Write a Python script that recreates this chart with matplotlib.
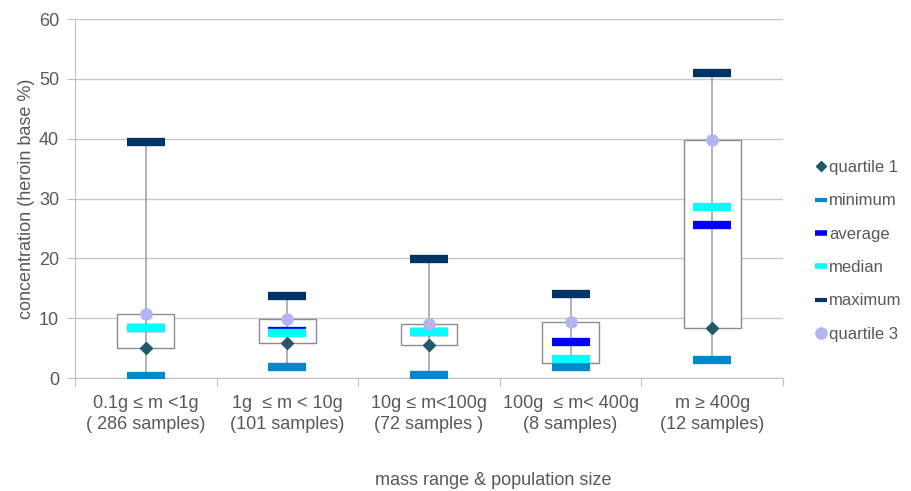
import matplotlib
matplotlib.use("Agg")
import matplotlib.pyplot as plt
from matplotlib.lines import Line2D

plt.rcParams['font.family'] = ['Liberation Sans', 'DejaVu Sans']

# data
categories = ['0.1g \u2264 m <1g\n( 286 samples)', '1g  \u2264 m < 10g\n(101 samples)',
              '10g \u2264 m<100g\n(72 samples )', '100g  \u2264 m< 400g\n(8 samples)',
              'm \u2265 400g\n(12 samples)']
quartile1 = [5.1, 5.9, 5.6, 2.45, 8.4]
minimum = [0.4, 1.85, 0.55, 1.9, 3.0]
average = [8.3, 7.85, 7.7, 6.05, 25.5]
median = [8.3, 7.5, 7.7, 3.2, 28.5]
maximum = [39.5, 13.7, 19.85, 14.05, 50.95]
quartile3 = [10.7, 9.85, 9.05, 9.3, 39.7]

grey_txt = '#595959'
c_q1 = '#215968'
c_min = '#0088cc'
c_avg = '#0000ff'
c_med = '#00ffff'
c_max = '#003366'
c_q3 = '#b4b4f0'
fs = 13

fig = plt.figure(figsize=(9.12, 4.91), dpi=100)
ax = fig.add_axes([0.0822, 0.2301, 0.7764, 0.7312])
x = list(range(len(categories)))

# whiskers and boxes
ax.bar(x, [q3 - q1 for q1, q3 in zip(quartile1, quartile3)], bottom=quartile1, width=0.4,
       facecolor='white', edgecolor='#8c8c8c', lw=1.0, zorder=2.5)
ax.vlines(x, minimum, maximum, color='#a6a6a6', lw=1.2, zorder=2.6)

dash = dict(ls='none', marker='_', markersize=28, mew=6, zorder=3)
ax.plot(x, quartile1, ls='none', marker='D', markersize=6, color=c_q1, zorder=3)
ax.plot(x, minimum, color=c_min, **dash)
ax.plot(x, average, color=c_avg, **dash)
ax.plot(x, median, color=c_med, **dash)
ax.plot(x, maximum, color=c_max, **dash)
ax.plot(x, quartile3, ls='none', marker='o', markersize=8, color=c_q3, zorder=3)

ax.set_xlim(-0.5, 4.5)
ax.set_ylim(0, 60)
ax.set_yticks(range(0, 61, 10))
ax.set_xticks([i + 0.5 for i in range(-1, 5)])
ax.set_xticklabels([])
ax.set_xticks(x, minor=True)
ax.set_xticklabels(categories, minor=True, linespacing=1.3)
ax.tick_params(axis='x', which='minor', length=0, pad=12, labelsize=fs, labelcolor=grey_txt)
ax.tick_params(axis='x', which='major', length=6, color='#bfbfbf', direction='out')
ax.tick_params(axis='y', length=5.5, color='#bfbfbf', labelsize=fs, labelcolor=grey_txt, pad=6)
ax.grid(axis='y', color='#c8c8c8', lw=1.0, zorder=0)
ax.set_axisbelow(True)
for s in ['top', 'right']:
    ax.spines[s].set_visible(False)
for s in ['left', 'bottom']:
    ax.spines[s].set_color('#bfbfbf')

ax.set_ylabel('concentration (heroin base %)', color=grey_txt, fontsize=fs, labelpad=3)
fig.text(0.541, 0.012, 'mass range & population size', color=grey_txt, fontsize=fs,
         ha='center', va='baseline')

handles = [
    Line2D([], [], ls='none', marker='D', markersize=5.5, color=c_q1),
    Line2D([], [], ls='none', marker='_', markersize=9, mew=3, color=c_min),
    Line2D([], [], ls='none', marker='_', markersize=9, mew=4, color=c_avg),
    Line2D([], [], ls='none', marker='_', markersize=9, mew=4, color=c_med),
    Line2D([], [], ls='none', marker='_', markersize=9, mew=3, color=c_max),
    Line2D([], [], ls='none', marker='o', markersize=8, color=c_q3),
]
labels = ['quartile 1', 'minimum', 'average', 'median', 'maximum', 'quartile 3']
leg = fig.legend(handles, labels, loc='center left', bbox_to_anchor=(0.886, 0.489), frameon=False,
                 fontsize=12, labelspacing=1.1, handlelength=0.6, handletextpad=0.15, borderpad=0)
for t in leg.get_texts():
    t.set_color(grey_txt)

fig.savefig('out.png', dpi=100)
